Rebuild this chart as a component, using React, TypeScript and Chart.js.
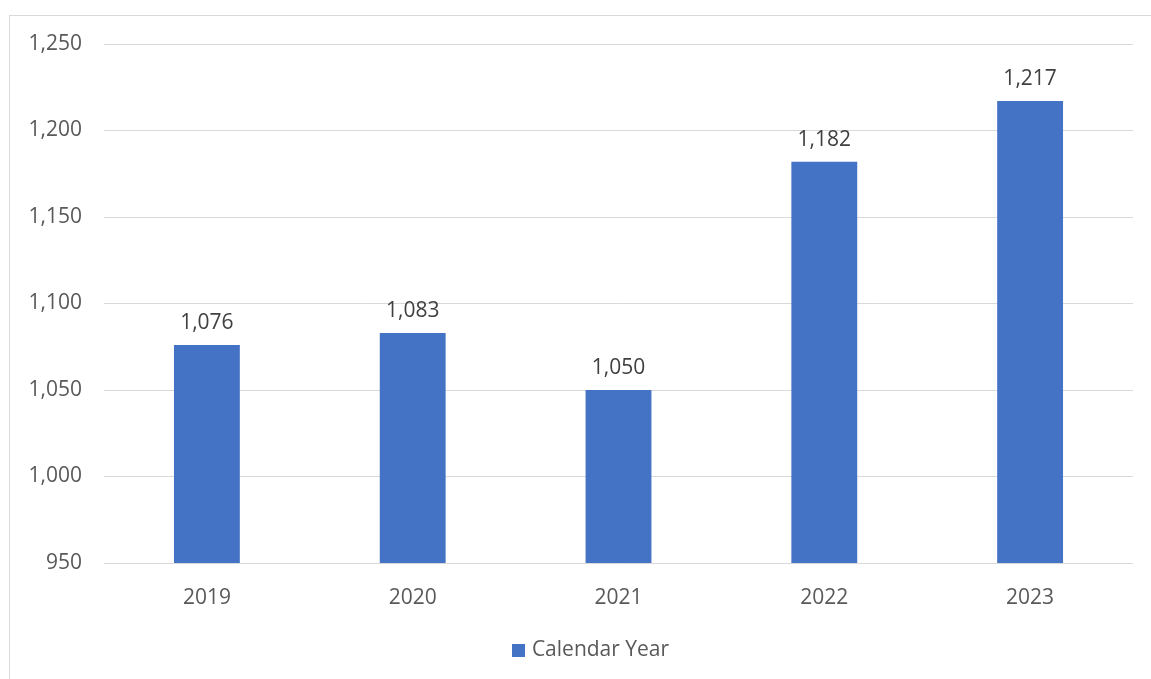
import React, { useEffect, useRef } from "react";
import { Chart, registerables } from "chart.js";

Chart.register(...registerables);

const categories = ["2019", "2020", "2021", "2022", "2023"];
const values = [1076, 1083, 1050, 1182, 1217];
const seriesName = "Calendar Year";
const yMin = 950;
const yMax = 1250;
const yStep = 50;

const FONT = "'Open Sans', 'Noto Sans', sans-serif";
const FS = 21;
const BAR_COLOR = "#4472C4";

const dataLabels = {
  id: "dataLabels",
  afterDatasetsDraw(chart: any) {
    const ctx = chart.ctx;
    const meta = chart.getDatasetMeta(0);
    ctx.save();
    ctx.font = `${FS}px ${FONT}`;
    ctx.fillStyle = "#404040";
    ctx.textAlign = "center";
    ctx.textBaseline = "middle";
    meta.data.forEach((bar: any, i: number) => {
      const v = chart.data.datasets[0].data[i] as number;
      ctx.fillText(v.toLocaleString("en-US"), bar.x, bar.y - 22);
    });
    ctx.restore();
  },
};

const bottomLegend = {
  id: "bottomLegend",
  afterDraw(chart: any) {
    const ctx = chart.ctx;
    const ds = chart.data.datasets[0];
    ctx.save();
    ctx.font = `${FS}px ${FONT}`;
    const tw = ctx.measureText(ds.label).width;
    const box = 13;
    const gap = 7;
    const total = box + gap + tw;
    const cx = chart.width / 2 + 10;
    const cy = chart.height - 29;
    const x0 = cx - total / 2;
    ctx.fillStyle = ds.backgroundColor;
    ctx.fillRect(Math.round(x0), Math.round(cy - box / 2), box, box);
    ctx.fillStyle = "#595959";
    ctx.textAlign = "left";
    ctx.textBaseline = "middle";
    ctx.fillText(ds.label, x0 + box + gap, cy);
    ctx.restore();
  },
};

export default function App() {
  const ref = useRef<HTMLCanvasElement>(null);
  useEffect(() => {
    if (!ref.current) return;
    const chart = new Chart(ref.current, {
      type: "bar",
      data: {
        labels: categories,
        datasets: [
          {
            label: seriesName,
            data: values,
            backgroundColor: BAR_COLOR,
            borderWidth: 0,
            categoryPercentage: 1,
            barPercentage: 0.32,
          },
        ],
      },
      options: {
        animation: false,
        responsive: false,
        maintainAspectRatio: false,
        layout: { padding: { top: 28, right: 18, bottom: 53, left: 0 } },
        plugins: {
          tooltip: { enabled: false },
          legend: { display: false },
        },
        scales: {
          x: {
            grid: { display: false, drawTicks: false },
            border: { display: false },
            ticks: {
              color: "#595959",
              font: { family: FONT, size: FS },
              padding: 22,
            },
            afterFit(scale: any) {
              scale.height = 63;
              scale.paddingLeft = 0;
              scale.paddingRight = 0;
            },
          },
          y: {
            min: yMin,
            max: yMax,
            grid: { color: "#d9d9d9", lineWidth: 1, drawTicks: false },
            border: { display: false },
            ticks: {
              stepSize: yStep,
              color: "#595959",
              font: { family: FONT, size: FS },
              padding: 22,
              callback: (v: any) => Number(v).toLocaleString("en-US"),
            },
            afterFit(scale: any) {
              scale.width = 94;
              scale.paddingTop = 0;
              scale.paddingBottom = 0;
            },
          },
        },
      },
      plugins: [dataLabels, bottomLegend],
    });
    return () => chart.destroy();
  }, []);
  return (
    <div
      style={{
        position: "absolute",
        left: 9,
        top: 15,
        width: 1142,
        height: 664,
        borderLeft: "1px solid #d9d9d9",
        borderTop: "1px solid #d9d9d9",
        overflow: "hidden",
        background: "#fff",
      }}
    >
      <canvas ref={ref} width={1141} height={663} style={{ display: "block" }} />
    </div>
  );
}
